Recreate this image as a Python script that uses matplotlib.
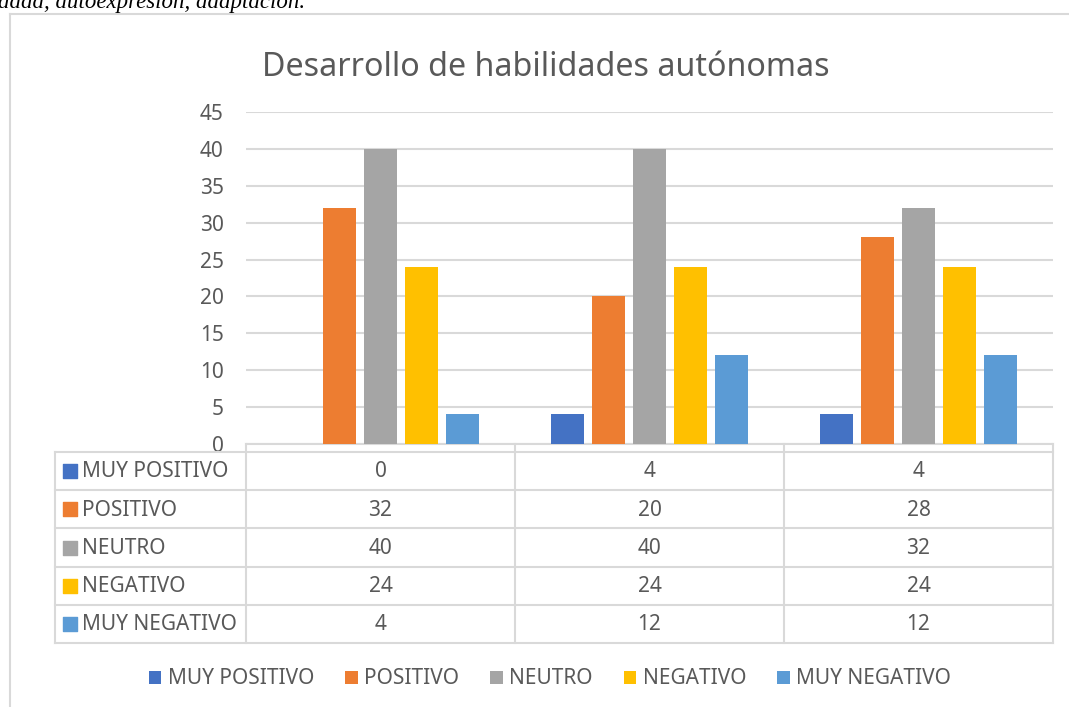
import numpy as np
import matplotlib
matplotlib.use("Agg")
import matplotlib.pyplot as plt
from matplotlib.lines import Line2D
from matplotlib.patches import Patch

plt.rcParams['font.family'] = ['Noto Sans', 'DejaVu Sans']

categories = ['', '', '']
series = ['MUY POSITIVO', 'POSITIVO', 'NEUTRO', 'NEGATIVO', 'MUY NEGATIVO']
values = [
    [0, 4, 4],      # MUY POSITIVO
    [32, 20, 28],   # POSITIVO
    [40, 40, 32],   # NEUTRO
    [24, 24, 24],   # NEGATIVO
    [4, 12, 12],    # MUY NEGATIVO
]
colors = ['#4472C4', '#ED7D31', '#A5A5A5', '#FFC000', '#5B9BD5']
yticks = list(range(0, 50, 5))

text_col = '#595959'
grid_col = '#D9D9D9'
W, H = 1069, 707
fs = 15

fig = plt.figure(figsize=(W / 100, H / 100), dpi=100)

def px_box(x0, y0, x1, y1):
    return [x0 / W, 1 - y1 / H, (x1 - x0) / W, (y1 - y0) / H]

# bars
ax = fig.add_axes(px_box(246, 112, 1053, 444))
x = np.arange(len(categories))
bw, step = 0.123, 0.152
for k, (name, vals) in enumerate(zip(series, values)):
    ax.bar(x + (k - 2) * step, vals, width=bw, color=colors[k], zorder=3)
ax.set_xlim(-0.5, len(categories) - 0.5)
ax.set_ylim(0, 45)
ax.set_yticks(yticks)
ax.yaxis.grid(True, color=grid_col, linewidth=1.5, zorder=0)
ax.tick_params(axis='y', length=0, pad=16, labelsize=fs, labelcolor=text_col)
ax.set_xticks([])
for s in ['top', 'right', 'left']:
    ax.spines[s].set_visible(False)
ax.spines['bottom'].set_color(grid_col)
ax.spines['bottom'].set_linewidth(1.5)

# data table
tab = fig.add_axes(px_box(55, 444, 1053, 643))
left = -0.5 - (246 - 55) / 269
head = 8 / 38.2
tab.set_xlim(left, len(categories) - 0.5)
tab.set_ylim(len(series), -head)
tab.axis('off')
for r in range(len(series) + 1):
    tab.plot([left, len(categories) - 0.5], [r, r], color=grid_col, lw=1.5, clip_on=False)
for c in np.arange(-0.5, len(categories), 1.0):
    tab.plot([c, c], [-head, len(series)], color=grid_col, lw=1.5, clip_on=False)
tab.plot([left, left], [0, len(series)], color=grid_col, lw=1.5, clip_on=False)
for r, name in enumerate(series):
    tab.scatter([left + 15 / 269], [r + 0.5], marker='s', s=100, color=colors[r], clip_on=False)
    tab.text(left + 27 / 269, r + 0.52, name, ha='left', va='center', fontsize=fs, color=text_col)
    for c in range(len(categories)):
        tab.text(c, r + 0.52, str(values[r][c]), ha='center', va='center', fontsize=fs, color=text_col)

# title
fig.text(546 / W, 1 - 67 / H, 'Desarrollo de habilidades autónomas', ha='center', va='center',
         fontsize=23.2, color=text_col)

# legend
handles = [Patch(facecolor=c) for c in colors]
fig.legend(handles, series, loc='center', bbox_to_anchor=(550 / W, 1 - 679 / H), ncol=5,
           frameon=False, fontsize=fs, labelcolor=text_col, handlelength=0.6, handleheight=0.6,
           handletextpad=0.3, columnspacing=1.5)

# chart frame and cut-off caption above it
fig.add_artist(Line2D([10 / W, 10 / W], [0, 1 - 14 / H], color=grid_col, lw=1.5))
fig.add_artist(Line2D([10 / W, 1], [1 - 14 / H, 1 - 14 / H], color=grid_col, lw=1.5))
fig.text(-2 / W, 1 - 8 / H, 'dada, autoexpresión, adaptación.', ha='left', va='baseline',
         fontsize=16.5, family='Liberation Serif', style='italic', color='black')

fig.savefig('out.png', dpi=100)
